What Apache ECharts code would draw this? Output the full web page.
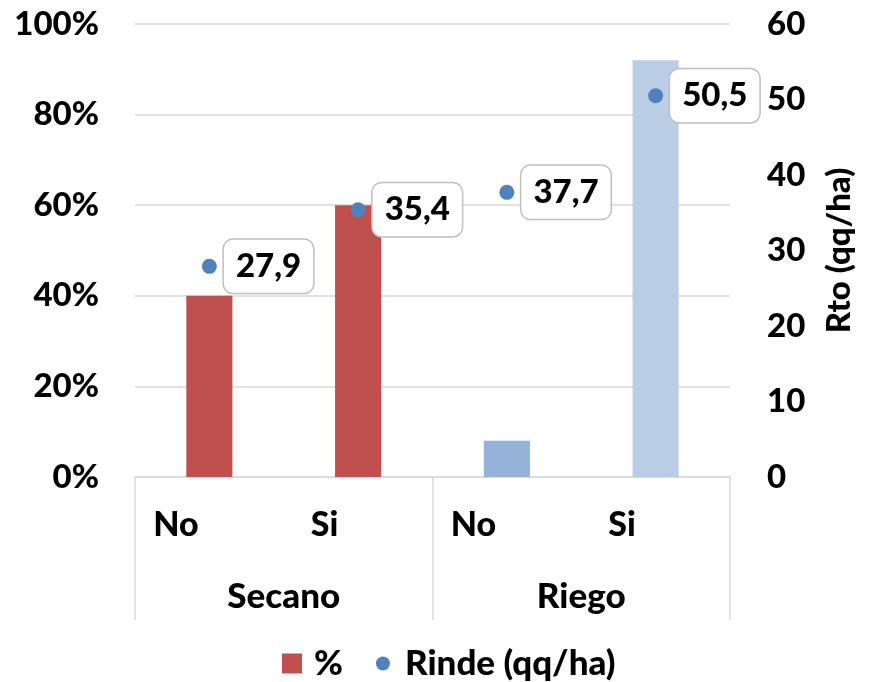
<!DOCTYPE html>
<html><head><meta charset="utf-8">
<script src="https://cdn.jsdelivr.net/npm/echarts@6/dist/echarts.min.js"></script>
<style>html,body{margin:0;padding:0;background:#fff}#c{width:869px;height:682px}</style>
</head><body><div id="c"></div>
<script>
const subCategories = ["No", "Si", "No", "Si"];
const groupCategories = ["Secano", "Riego"];
const percentValues = [40, 60, 8, 92];
const rindeValues = [27.9, 35.4, 37.7, 50.5];
const barColors = ["#C0504D", "#C0504D", "#95B3D7", "#B9CDE5"];
const leftTicks = { min: 0, max: 100, interval: 20 };
const rightTicks = { min: 0, max: 60, interval: 10 };

const FONT = 'Lato';
const FS = 33;
const FW = 900;
const chart = echarts.init(document.getElementById('c'), null, { renderer: 'canvas' });
chart.setOption({
  animation: false,
  textStyle: { fontFamily: FONT },
  grid: { left: 135, right: 139, top: 24, bottom: 205, containLabel: false, outerBoundsMode: 'none' },
  legend: {
    left: 277, top: 641,
    itemWidth: 20, itemHeight: 20, itemGap: 30,
    textStyle: { fontFamily: FONT, fontSize: 35, fontWeight: FW, color: '#000', padding: [0, 0, 0, 7] },
    data: [
      { name: '%', icon: 'rect' },
      { name: 'Rinde (qq/ha)', icon: 'path://M0,0M20,20M3,10a7,7 0 1,0 14,0a7,7 0 1,0 -14,0Z' }
    ]
  },
  xAxis: [
    {
      type: 'category', data: subCategories, position: 'bottom',
      axisLine: { show: true, lineStyle: { color: '#D9D9D9', width: 1.5 } },
      axisTick: { show: false },
      axisLabel: { margin: 31, padding: [0, 67, 0, 0], fontFamily: FONT, fontSize: 34, fontWeight: FW, color: '#000' }
    },
    {
      type: 'category', data: groupCategories, position: 'bottom',
      axisLine: { show: false },
      axisTick: { show: true, length: 143, lineStyle: { color: '#D9D9D9', width: 1.5 } },
      axisLabel: { margin: 102, fontFamily: FONT, fontSize: 35, fontWeight: FW, color: '#000' }
    }
  ],
  yAxis: [
    {
      type: 'value', min: leftTicks.min, max: leftTicks.max, interval: leftTicks.interval,
      axisLine: { show: false }, axisTick: { show: false },
      splitLine: { lineStyle: { color: '#D9D9D9', width: 1.5 } },
      axisLabel: { formatter: '{value}%', margin: 36, fontFamily: FONT, fontSize: FS, fontWeight: FW, color: '#000' }
    },
    {
      type: 'value', min: rightTicks.min, max: rightTicks.max, interval: rightTicks.interval,
      position: 'right',
      axisLine: { show: false }, axisTick: { show: false }, splitLine: { show: false },
      axisLabel: { margin: 37, fontFamily: FONT, fontSize: FS, fontWeight: FW, color: '#000' },
      name: 'Rto (qq/ha)', nameLocation: 'middle', nameRotate: 90, nameGap: 93,
      nameTextStyle: { fontFamily: FONT, fontSize: FS, fontWeight: FW, color: '#000' }
    }
  ],
  series: [
    {
      name: '%', type: 'bar', xAxisIndex: 0, yAxisIndex: 0, barWidth: '31%',
      itemStyle: { color: '#C0504D', opacity: 1 },
      data: percentValues.map((v, i) => ({ value: v, itemStyle: { color: barColors[i] } }))
    },
    {
      name: 'Rinde (qq/ha)', type: 'scatter', xAxisIndex: 0, yAxisIndex: 1,
      symbol: 'circle', symbolSize: 15, itemStyle: { color: '#4F81BD', opacity: 1 },
      data: rindeValues,
      label: {
        show: true, position: 'right', distance: 7, opacity: 1,
        formatter: p => String(p.value).replace('.', ','),
        fontFamily: FONT, fontSize: FS, fontWeight: FW, color: '#000',
        backgroundColor: '#fff', borderColor: '#BFBFBF', borderWidth: 1.5, borderRadius: 9,
        padding: [11, 12, 9, 12]
      }
    }
  ]
});
</script></body></html>
